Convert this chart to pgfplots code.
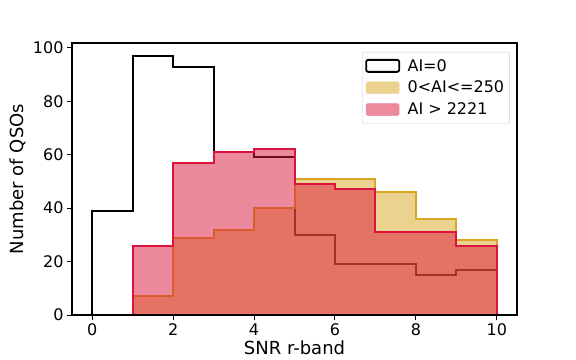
\documentclass[border=0pt]{standalone}
\usepackage{pgfplots}
\pgfplotsset{compat=1.18}
\usepackage{fontspec}
\setmainfont{DejaVu Sans}
\definecolor{gold}{HTML}{DAA520}
\definecolor{crim}{HTML}{DC143C}
\definecolor{goldfill}{HTML}{ECD28F}
\definecolor{pinkfill}{HTML}{ED8A9D}
\newcommand{\fs}{\fontsize{16bp}{19bp}\selectfont}
\newcommand{\fl}{\fontsize{18bp}{21bp}\selectfont}
\begin{document}
\begin{tikzpicture}
\useasboundingbox (-72bp,-45bp) rectangle (504bp,315bp);
\begin{axis}[
  at={(0,0)}, anchor=south west,
  scale only axis, width=445bp, height=272bp,
  xmin=-0.5, xmax=10.5, ymin=0, ymax=101.85,
  xtick={0,2,...,10}, ytick={0,20,...,100},
  tick align=outside, tick pos=left, major tick length=5bp,
  axis line style={line width=1.3bp},
  every tick/.style={black, line width=1bp},
  /pgf/number format/assume math mode=true,
  ticklabel style={font=\fs},
  label style={font=\fl},
  xlabel={SNR r-band}, ylabel={Number of QSOs},
  xlabel style={yshift=2bp},
  axis on top,
  legend cell align=left,
  legend style={at={(axis description cs:0.984,0.967)}, anchor=north east,
    draw=black!20, rounded corners=2pt, font=\fs, row sep=4.5bp,
    column sep=5bp,
    inner xsep=3bp, inner ysep=5bp,
    nodes={inner xsep=2.5bp}},
]
\addplot[const plot, draw=black, line width=2bp, forget plot]
  coordinates {(0,0) (0,39) (1,97) (2,93) (3,61) (4,59) (5,30) (6,19) (7,19) (8,15) (9,17) (10,17) (10,0)};
\addplot[const plot, draw=gold, line width=2bp, fill=gold, fill opacity=0.5, draw opacity=1, forget plot]
  coordinates {(1,7) (2,29) (3,32) (4,40) (5,51) (6,51) (7,46) (8,36) (9,28) (10,28)} \closedcycle;
\addplot[const plot, draw=crim, line width=2bp, fill=crim, fill opacity=0.5, draw opacity=1, forget plot]
  coordinates {(1,26) (2,57) (3,61) (4,62) (5,49) (6,47) (7,31) (8,31) (9,26) (10,26)} \closedcycle;
\addlegendimage{legend image code/.code={\draw[black, line width=1.8bp] (0bp,-6bp) rectangle (33bp,6bp);}}
\addlegendentry{AI=0}
\addlegendimage{legend image code/.code={\fill[goldfill] (0bp,-6bp) rectangle (33bp,6bp);}}
\addlegendentry{0<AI<=250}
\addlegendimage{legend image code/.code={\fill[pinkfill] (0bp,-6bp) rectangle (33bp,6bp);}}
\addlegendentry{AI > 2221}
\end{axis}
\end{tikzpicture}
\end{document}
